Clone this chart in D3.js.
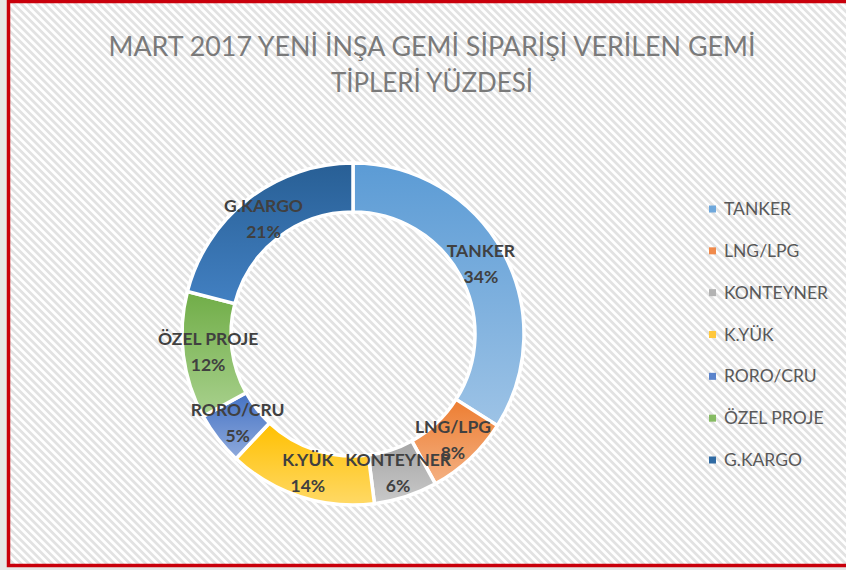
<!DOCTYPE html>
<html>
<head>
<meta charset="utf-8">
<script src="https://cdn.jsdelivr.net/npm/d3@7"></script>
<style>
  body { margin: 0; background: #e7e7e7; }
  svg { display: block; }
</style>
</head>
<body>
<div id="chart"></div>
<script>
// chart data
var categories = ["TANKER", "LNG/LPG", "KONTEYNER", "K.YÜK", "RORO/CRU", "ÖZEL PROJE", "G.KARGO"];
var values = [34, 8, 6, 14, 5, 12, 21];
var titleLines = ["MART 2017 YENİ İNŞA GEMİ SİPARİŞİ VERİLEN GEMİ", "TİPLERİ YÜZDESİ"];

// colours (top -> bottom of each gradient)
var topColors = ["#5b9bd5", "#ed7d31", "#a5a5a5", "#ffc000", "#4472c4", "#70ad47", "#285f95"];
var bottomColors = ["#9dc3e6", "#f4b183", "#c9c9c9", "#ffd966", "#8faadc", "#a9d18e", "#4280c2"];
var legendColors = ["#6fa8dc", "#f08a4b", "#b3b3b3", "#ffc83d", "#5b84cc", "#86bb63", "#2f6aa3"];

var W = 846, H = 570;
var svg = d3.select("#chart").append("svg")
  .attr("width", W)
  .attr("height", H);

var defs = svg.append("defs");

// hatched chart-area background
var pat = defs.append("pattern")
  .attr("id", "hatch")
  .attr("patternUnits", "userSpaceOnUse")
  .attr("width", 5.5).attr("height", 6)
  .attr("patternTransform", "rotate(-45)");
pat.append("rect").attr("width", 5.5).attr("height", 6).attr("fill", "#ffffff");
pat.append("rect").attr("width", 2.75).attr("height", 6).attr("fill", "#e2e2e2");

// gradients for the slices
categories.forEach(function(c, i) {
  var g = defs.append("linearGradient")
    .attr("id", "grad" + i)
    .attr("x1", 0).attr("y1", 0).attr("x2", 0).attr("y2", 1);
  g.append("stop").attr("offset", "0%").attr("stop-color", topColors[i]);
  g.append("stop").attr("offset", "100%").attr("stop-color", bottomColors[i]);
});

// chart area with red border
svg.append("rect")
  .attr("x", 8.5).attr("y", 1.5)
  .attr("width", W + 10).attr("height", 564)
  .attr("fill", "url(#hatch)")
  .attr("stroke", "#c9000b")
  .attr("stroke-width", 3.5);

// title
var title = svg.append("g")
  .attr("font-family", "Lato, 'Open Sans', sans-serif")
  .attr("fill", "#7a7a7a")
  .attr("font-size", 27)
  .attr("text-anchor", "middle");
title.append("text").attr("x", 432).attr("y", 56).text(titleLines[0])
  .attr("textLength", 647).attr("lengthAdjust", "spacingAndGlyphs");
title.append("text").attr("x", 432).attr("y", 92).text(titleLines[1])
  .attr("textLength", 202).attr("lengthAdjust", "spacingAndGlyphs");

// donut
var cx = 353, cy = 334, outerR = 171, innerR = 122;
var pie = d3.pie().sort(null).value(function(d) { return d; });
var arc = d3.arc().innerRadius(innerR).outerRadius(outerR);
var labelArc = d3.arc().innerRadius(146).outerRadius(146);

var arcs = pie(values);
var donut = svg.append("g").attr("transform", "translate(" + cx + "," + cy + ")");

donut.selectAll("path")
  .data(arcs)
  .enter()
  .append("path")
  .attr("d", arc)
  .attr("fill", function(d, i) { return "url(#grad" + i + ")"; })
  .attr("stroke", "#ffffff")
  .attr("stroke-width", 3.5)
  .attr("stroke-linejoin", "miter");

// data labels
var labels = donut.selectAll("g.lbl")
  .data(arcs)
  .enter()
  .append("g")
  .attr("class", "lbl")
  .attr("transform", function(d) { return "translate(" + labelArc.centroid(d) + ")"; })
  .attr("font-family", "Lato, 'Open Sans', sans-serif")
  .attr("font-weight", "bold")
  .attr("font-size", 17.5)
  .attr("fill", "#404040")
  .attr("text-anchor", "middle");

labels.append("text")
  .attr("y", -7)
  .text(function(d, i) { return categories[i]; });
labels.append("text")
  .attr("y", 19)
  .text(function(d) { return d.data + "%"; });

// legend
var legendY = d3.scalePoint().domain(categories).range([209, 460]);
var legend = svg.append("g")
  .attr("font-family", "Lato, 'Open Sans', sans-serif")
  .attr("font-size", 17.5)
  .attr("fill", "#595959");

var items = legend.selectAll("g")
  .data(categories)
  .enter()
  .append("g")
  .attr("transform", function(d) { return "translate(709," + legendY(d) + ")"; });

items.append("rect")
  .attr("x", 0).attr("y", -3.5)
  .attr("width", 7).attr("height", 7)
  .attr("fill", function(d, i) { return legendColors[i]; });

items.append("text")
  .attr("x", 15)
  .attr("dy", "0.35em")
  .text(function(d) { return d; });
</script>
</body>
</html>
